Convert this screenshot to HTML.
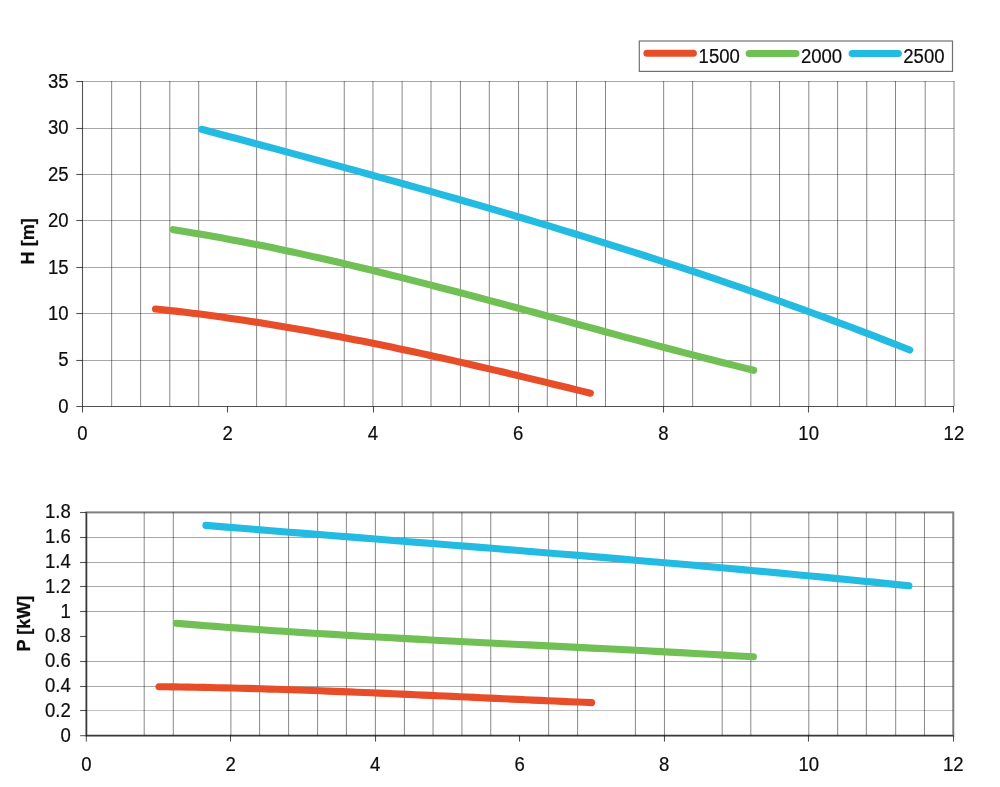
<!DOCTYPE html>
<html><head><meta charset="utf-8"><title>Pump curves</title>
<style>html,body{margin:0;padding:0;background:#fff;}svg{display:block;will-change:transform;}body{font-family:"Liberation Sans",sans-serif;}</style></head>
<body>
<svg width="1000" height="787" viewBox="0 0 1000 787">
<rect width="1000" height="787" fill="#fff"/>
<g fill="none">
<line x1="111.65" y1="81.00" x2="111.65" y2="406.50" stroke="#000" stroke-opacity="0.47" stroke-width="1"/>
<line x1="140.60" y1="81.00" x2="140.60" y2="406.50" stroke="#000" stroke-opacity="0.47" stroke-width="1"/>
<line x1="169.80" y1="81.00" x2="169.80" y2="406.50" stroke="#000" stroke-opacity="0.47" stroke-width="1"/>
<line x1="198.70" y1="81.00" x2="198.70" y2="406.50" stroke="#000" stroke-opacity="0.47" stroke-width="1"/>
<line x1="256.60" y1="81.00" x2="256.60" y2="406.50" stroke="#000" stroke-opacity="0.47" stroke-width="1"/>
<line x1="286.10" y1="81.00" x2="286.10" y2="406.50" stroke="#000" stroke-opacity="0.47" stroke-width="1"/>
<line x1="344.25" y1="81.00" x2="344.25" y2="406.50" stroke="#000" stroke-opacity="0.47" stroke-width="1"/>
<line x1="372.95" y1="81.00" x2="372.95" y2="406.50" stroke="#000" stroke-opacity="0.47" stroke-width="1"/>
<line x1="402.10" y1="81.00" x2="402.10" y2="406.50" stroke="#000" stroke-opacity="0.47" stroke-width="1"/>
<line x1="431.00" y1="81.00" x2="431.00" y2="406.50" stroke="#000" stroke-opacity="0.47" stroke-width="1"/>
<line x1="460.40" y1="81.00" x2="460.40" y2="406.50" stroke="#000" stroke-opacity="0.47" stroke-width="1"/>
<line x1="489.30" y1="81.00" x2="489.30" y2="406.50" stroke="#000" stroke-opacity="0.47" stroke-width="1"/>
<line x1="518.55" y1="81.00" x2="518.55" y2="406.50" stroke="#000" stroke-opacity="0.47" stroke-width="1"/>
<line x1="547.30" y1="81.00" x2="547.30" y2="406.50" stroke="#000" stroke-opacity="0.47" stroke-width="1"/>
<line x1="576.50" y1="81.00" x2="576.50" y2="406.50" stroke="#000" stroke-opacity="0.47" stroke-width="1"/>
<line x1="605.50" y1="81.00" x2="605.50" y2="406.50" stroke="#000" stroke-opacity="0.47" stroke-width="1"/>
<line x1="663.65" y1="81.00" x2="663.65" y2="406.50" stroke="#000" stroke-opacity="0.47" stroke-width="1"/>
<line x1="692.65" y1="81.00" x2="692.65" y2="406.50" stroke="#000" stroke-opacity="0.47" stroke-width="1"/>
<line x1="750.85" y1="81.00" x2="750.85" y2="406.50" stroke="#000" stroke-opacity="0.47" stroke-width="1"/>
<line x1="779.55" y1="81.00" x2="779.55" y2="406.50" stroke="#000" stroke-opacity="0.47" stroke-width="1"/>
<line x1="808.80" y1="81.00" x2="808.80" y2="406.50" stroke="#000" stroke-opacity="0.47" stroke-width="1"/>
<line x1="837.60" y1="81.00" x2="837.60" y2="406.50" stroke="#000" stroke-opacity="0.47" stroke-width="1"/>
<line x1="866.75" y1="81.00" x2="866.75" y2="406.50" stroke="#000" stroke-opacity="0.47" stroke-width="1"/>
<line x1="895.50" y1="81.00" x2="895.50" y2="406.50" stroke="#000" stroke-opacity="0.47" stroke-width="1"/>
<line x1="925.20" y1="81.00" x2="925.20" y2="406.50" stroke="#000" stroke-opacity="0.47" stroke-width="1"/>
<line x1="954.00" y1="81.00" x2="954.00" y2="406.50" stroke="#000" stroke-opacity="0.47" stroke-width="1"/>
<line x1="82.50" y1="81.50" x2="954.00" y2="81.50" stroke="#000" stroke-opacity="0.34" stroke-width="1"/>
<line x1="82.50" y1="128.50" x2="954.00" y2="128.50" stroke="#000" stroke-opacity="0.34" stroke-width="1"/>
<line x1="82.50" y1="174.50" x2="954.00" y2="174.50" stroke="#000" stroke-opacity="0.34" stroke-width="1"/>
<line x1="82.50" y1="220.50" x2="954.00" y2="220.50" stroke="#000" stroke-opacity="0.34" stroke-width="1"/>
<line x1="82.50" y1="267.50" x2="954.00" y2="267.50" stroke="#000" stroke-opacity="0.34" stroke-width="1"/>
<line x1="82.50" y1="313.50" x2="954.00" y2="313.50" stroke="#000" stroke-opacity="0.34" stroke-width="1"/>
<line x1="82.50" y1="360.50" x2="954.00" y2="360.50" stroke="#000" stroke-opacity="0.34" stroke-width="1"/>
<line x1="82.50" y1="81.00" x2="82.50" y2="412.50" stroke="#000" stroke-opacity="0.68" stroke-width="1.1"/>
<line x1="76.30" y1="406.50" x2="954.00" y2="406.50" stroke="#000" stroke-opacity="0.68" stroke-width="1.1"/>
<line x1="76.30" y1="81.50" x2="82.50" y2="81.50" stroke="#000" stroke-opacity="0.68" stroke-width="1.1"/>
<line x1="76.30" y1="128.50" x2="82.50" y2="128.50" stroke="#000" stroke-opacity="0.68" stroke-width="1.1"/>
<line x1="76.30" y1="174.50" x2="82.50" y2="174.50" stroke="#000" stroke-opacity="0.68" stroke-width="1.1"/>
<line x1="76.30" y1="220.50" x2="82.50" y2="220.50" stroke="#000" stroke-opacity="0.68" stroke-width="1.1"/>
<line x1="76.30" y1="267.50" x2="82.50" y2="267.50" stroke="#000" stroke-opacity="0.68" stroke-width="1.1"/>
<line x1="76.30" y1="313.50" x2="82.50" y2="313.50" stroke="#000" stroke-opacity="0.68" stroke-width="1.1"/>
<line x1="76.30" y1="360.50" x2="82.50" y2="360.50" stroke="#000" stroke-opacity="0.68" stroke-width="1.1"/>
<line x1="227.50" y1="406.50" x2="227.50" y2="412.50" stroke="#000" stroke-opacity="0.68" stroke-width="1.1"/>
<line x1="373.50" y1="406.50" x2="373.50" y2="412.50" stroke="#000" stroke-opacity="0.68" stroke-width="1.1"/>
<line x1="518.50" y1="406.50" x2="518.50" y2="412.50" stroke="#000" stroke-opacity="0.68" stroke-width="1.1"/>
<line x1="663.50" y1="406.50" x2="663.50" y2="412.50" stroke="#000" stroke-opacity="0.68" stroke-width="1.1"/>
<line x1="808.50" y1="406.50" x2="808.50" y2="412.50" stroke="#000" stroke-opacity="0.68" stroke-width="1.1"/>
<line x1="953.50" y1="406.50" x2="953.50" y2="412.50" stroke="#000" stroke-opacity="0.68" stroke-width="1.1"/>
</g>
<g fill="none">
<line x1="144.20" y1="512.40" x2="144.20" y2="735.60" stroke="#000" stroke-opacity="0.47" stroke-width="1"/>
<line x1="173.30" y1="512.40" x2="173.30" y2="735.60" stroke="#000" stroke-opacity="0.47" stroke-width="1"/>
<line x1="230.90" y1="512.40" x2="230.90" y2="735.60" stroke="#000" stroke-opacity="0.47" stroke-width="1"/>
<line x1="259.60" y1="512.40" x2="259.60" y2="735.60" stroke="#000" stroke-opacity="0.47" stroke-width="1"/>
<line x1="288.60" y1="512.40" x2="288.60" y2="735.60" stroke="#000" stroke-opacity="0.47" stroke-width="1"/>
<line x1="317.60" y1="512.40" x2="317.60" y2="735.60" stroke="#000" stroke-opacity="0.47" stroke-width="1"/>
<line x1="346.40" y1="512.40" x2="346.40" y2="735.60" stroke="#000" stroke-opacity="0.47" stroke-width="1"/>
<line x1="375.40" y1="512.40" x2="375.40" y2="735.60" stroke="#000" stroke-opacity="0.47" stroke-width="1"/>
<line x1="404.40" y1="512.40" x2="404.40" y2="735.60" stroke="#000" stroke-opacity="0.47" stroke-width="1"/>
<line x1="433.05" y1="512.40" x2="433.05" y2="735.60" stroke="#000" stroke-opacity="0.47" stroke-width="1"/>
<line x1="461.95" y1="512.40" x2="461.95" y2="735.60" stroke="#000" stroke-opacity="0.47" stroke-width="1"/>
<line x1="490.75" y1="512.40" x2="490.75" y2="735.60" stroke="#000" stroke-opacity="0.47" stroke-width="1"/>
<line x1="548.65" y1="512.40" x2="548.65" y2="735.60" stroke="#000" stroke-opacity="0.47" stroke-width="1"/>
<line x1="577.60" y1="512.40" x2="577.60" y2="735.60" stroke="#000" stroke-opacity="0.47" stroke-width="1"/>
<line x1="635.40" y1="512.40" x2="635.40" y2="735.60" stroke="#000" stroke-opacity="0.47" stroke-width="1"/>
<line x1="664.45" y1="512.40" x2="664.45" y2="735.60" stroke="#000" stroke-opacity="0.47" stroke-width="1"/>
<line x1="722.20" y1="512.40" x2="722.20" y2="735.60" stroke="#000" stroke-opacity="0.47" stroke-width="1"/>
<line x1="750.80" y1="512.40" x2="750.80" y2="735.60" stroke="#000" stroke-opacity="0.47" stroke-width="1"/>
<line x1="808.80" y1="512.40" x2="808.80" y2="735.60" stroke="#000" stroke-opacity="0.47" stroke-width="1"/>
<line x1="837.65" y1="512.40" x2="837.65" y2="735.60" stroke="#000" stroke-opacity="0.47" stroke-width="1"/>
<line x1="866.35" y1="512.40" x2="866.35" y2="735.60" stroke="#000" stroke-opacity="0.47" stroke-width="1"/>
<line x1="895.70" y1="512.40" x2="895.70" y2="735.60" stroke="#000" stroke-opacity="0.47" stroke-width="1"/>
<line x1="924.45" y1="512.40" x2="924.45" y2="735.60" stroke="#000" stroke-opacity="0.47" stroke-width="1"/>
<line x1="86.39" y1="537.50" x2="953.28" y2="537.50" stroke="#000" stroke-opacity="0.34" stroke-width="1"/>
<line x1="86.39" y1="562.50" x2="953.28" y2="562.50" stroke="#000" stroke-opacity="0.34" stroke-width="1"/>
<line x1="86.39" y1="586.50" x2="953.28" y2="586.50" stroke="#000" stroke-opacity="0.34" stroke-width="1"/>
<line x1="86.39" y1="611.50" x2="953.28" y2="611.50" stroke="#000" stroke-opacity="0.34" stroke-width="1"/>
<line x1="86.39" y1="661.50" x2="953.28" y2="661.50" stroke="#000" stroke-opacity="0.34" stroke-width="1"/>
<line x1="86.39" y1="686.50" x2="953.28" y2="686.50" stroke="#000" stroke-opacity="0.34" stroke-width="1"/>
<line x1="86.39" y1="710.50" x2="953.28" y2="710.50" stroke="#000" stroke-opacity="0.24" stroke-width="1"/>
<rect x="86.39" y="512.40" width="866.89" height="223.20" stroke="#000" stroke-opacity="0.50" stroke-width="2"/>
<line x1="86.39" y1="512.40" x2="86.39" y2="741.60" stroke="#000" stroke-opacity="0.55" stroke-width="1.3"/>
<line x1="80.09" y1="735.60" x2="953.28" y2="735.60" stroke="#000" stroke-opacity="0.55" stroke-width="1.3"/>
<line x1="80.09" y1="512.50" x2="86.39" y2="512.50" stroke="#000" stroke-opacity="0.68" stroke-width="1.1"/>
<line x1="80.09" y1="537.50" x2="86.39" y2="537.50" stroke="#000" stroke-opacity="0.68" stroke-width="1.1"/>
<line x1="80.09" y1="562.50" x2="86.39" y2="562.50" stroke="#000" stroke-opacity="0.68" stroke-width="1.1"/>
<line x1="80.09" y1="586.50" x2="86.39" y2="586.50" stroke="#000" stroke-opacity="0.68" stroke-width="1.1"/>
<line x1="80.09" y1="611.50" x2="86.39" y2="611.50" stroke="#000" stroke-opacity="0.68" stroke-width="1.1"/>
<line x1="80.09" y1="636.50" x2="86.39" y2="636.50" stroke="#000" stroke-opacity="0.68" stroke-width="1.1"/>
<line x1="80.09" y1="661.50" x2="86.39" y2="661.50" stroke="#000" stroke-opacity="0.68" stroke-width="1.1"/>
<line x1="80.09" y1="686.50" x2="86.39" y2="686.50" stroke="#000" stroke-opacity="0.68" stroke-width="1.1"/>
<line x1="80.09" y1="710.50" x2="86.39" y2="710.50" stroke="#000" stroke-opacity="0.68" stroke-width="1.1"/>
<line x1="230.50" y1="735.60" x2="230.50" y2="741.60" stroke="#000" stroke-opacity="0.68" stroke-width="1.1"/>
<line x1="375.50" y1="735.60" x2="375.50" y2="741.60" stroke="#000" stroke-opacity="0.68" stroke-width="1.1"/>
<line x1="519.50" y1="735.60" x2="519.50" y2="741.60" stroke="#000" stroke-opacity="0.68" stroke-width="1.1"/>
<line x1="664.50" y1="735.60" x2="664.50" y2="741.60" stroke="#000" stroke-opacity="0.68" stroke-width="1.1"/>
<line x1="808.50" y1="735.60" x2="808.50" y2="741.60" stroke="#000" stroke-opacity="0.68" stroke-width="1.1"/>
<line x1="953.50" y1="735.60" x2="953.50" y2="741.60" stroke="#000" stroke-opacity="0.68" stroke-width="1.1"/>
</g>
<g fill="none" stroke-width="7.1" stroke-linecap="round" stroke-linejoin="round">
<polyline stroke="#E84D2A" points="155.5,309.0 162.9,309.8 170.2,310.6 177.6,311.4 185.0,312.3 192.4,313.2 199.7,314.1 207.1,315.1 214.5,316.1 221.8,317.1 229.2,318.2 236.6,319.2 244.0,320.3 251.3,321.4 258.7,322.6 266.1,323.8 273.4,325.0 280.8,326.2 288.2,327.4 295.6,328.7 302.9,330.0 310.3,331.3 317.7,332.7 325.0,334.0 332.4,335.4 339.8,336.8 347.2,338.2 354.5,339.7 361.9,341.1 369.3,342.6 376.6,344.1 384.0,345.6 391.4,347.1 398.7,348.7 406.1,350.3 413.5,351.8 420.9,353.4 428.2,355.0 435.6,356.7 443.0,358.3 450.3,359.9 457.7,361.6 465.1,363.3 472.5,365.0 479.8,366.7 487.2,368.4 494.6,370.1 501.9,371.8 509.3,373.6 516.7,375.3 524.1,377.1 531.4,378.9 538.8,380.6 546.2,382.4 553.5,384.2 560.9,386.0 568.3,387.8 575.7,389.6 583.0,391.4 590.4,393.2"/>
<polyline stroke="#70C055" points="173.3,229.7 183.1,231.3 193.0,232.9 202.8,234.6 212.6,236.3 222.5,238.0 232.3,239.9 242.2,241.7 252.0,243.7 261.8,245.6 271.7,247.6 281.5,249.7 291.3,251.8 301.2,253.9 311.0,256.1 320.9,258.3 330.7,260.5 340.5,262.8 350.4,265.1 360.2,267.5 370.0,269.8 379.9,272.2 389.7,274.7 399.6,277.1 409.4,279.6 419.2,282.1 429.1,284.6 438.9,287.2 448.7,289.7 458.6,292.3 468.4,294.9 478.3,297.5 488.1,300.1 497.9,302.7 507.8,305.4 517.6,308.0 527.4,310.7 537.3,313.3 547.1,316.0 557.0,318.7 566.8,321.3 576.6,324.0 586.5,326.7 596.3,329.3 606.1,332.0 616.0,334.6 625.8,337.3 635.7,339.9 645.5,342.5 655.3,345.1 665.2,347.7 675.0,350.3 684.8,352.9 694.7,355.4 704.5,358.0 714.4,360.5 724.2,363.0 734.0,365.4 743.9,367.9 753.7,370.3"/>
<polyline stroke="#24BBE2" points="201.6,129.3 213.6,132.5 225.6,135.7 237.6,138.8 249.6,142.0 261.6,145.2 273.6,148.4 285.6,151.7 297.6,154.9 309.6,158.1 321.6,161.4 333.6,164.6 345.6,167.9 357.6,171.2 369.6,174.5 381.7,177.8 393.7,181.1 405.7,184.5 417.7,187.8 429.7,191.2 441.7,194.6 453.7,198.0 465.7,201.5 477.7,204.9 489.7,208.4 501.7,211.9 513.7,215.5 525.7,219.0 537.7,222.6 549.7,226.2 561.7,229.8 573.7,233.5 585.7,237.1 597.7,240.9 609.7,244.6 621.7,248.4 633.7,252.2 645.7,256.0 657.7,259.9 669.7,263.8 681.7,267.7 693.7,271.7 705.7,275.7 717.7,279.7 729.7,283.8 741.8,287.9 753.8,292.1 765.8,296.3 777.8,300.5 789.8,304.8 801.8,309.1 813.8,313.5 825.8,317.9 837.8,322.3 849.8,326.8 861.8,331.4 873.8,335.9 885.8,340.6 897.8,345.3 909.8,350.0"/>
<polyline stroke="#E84D2A" points="159.0,686.7 166.3,686.8 173.7,686.9 181.0,687.0 188.3,687.1 195.7,687.2 203.0,687.4 210.3,687.5 217.7,687.7 225.0,687.9 232.3,688.0 239.7,688.2 247.0,688.4 254.3,688.6 261.7,688.8 269.0,689.1 276.3,689.3 283.6,689.5 291.0,689.8 298.3,690.0 305.6,690.3 313.0,690.5 320.3,690.8 327.6,691.1 335.0,691.4 342.3,691.6 349.6,691.9 357.0,692.2 364.3,692.5 371.6,692.8 379.0,693.1 386.3,693.4 393.6,693.8 401.0,694.1 408.3,694.4 415.6,694.7 423.0,695.1 430.3,695.4 437.6,695.7 445.0,696.0 452.3,696.4 459.6,696.7 467.0,697.0 474.3,697.4 481.6,697.7 488.9,698.1 496.3,698.4 503.6,698.7 510.9,699.1 518.3,699.4 525.6,699.7 532.9,700.1 540.3,700.4 547.6,700.7 554.9,701.0 562.3,701.4 569.6,701.7 576.9,702.0 584.3,702.3 591.6,702.6"/>
<polyline stroke="#70C055" points="176.3,623.3 186.1,624.1 195.9,624.9 205.6,625.7 215.4,626.4 225.2,627.2 235.0,627.9 244.8,628.6 254.6,629.3 264.3,630.0 274.1,630.7 283.9,631.3 293.7,632.0 303.5,632.6 313.2,633.2 323.0,633.8 332.8,634.4 342.6,635.0 352.4,635.6 362.1,636.2 371.9,636.7 381.7,637.3 391.5,637.8 401.3,638.4 411.1,638.9 420.8,639.4 430.6,640.0 440.4,640.5 450.2,641.0 460.0,641.5 469.7,642.0 479.5,642.5 489.3,643.0 499.1,643.5 508.9,644.0 518.6,644.5 528.4,644.9 538.2,645.4 548.0,645.9 557.8,646.4 567.6,646.9 577.3,647.4 587.1,647.9 596.9,648.4 606.7,648.8 616.5,649.3 626.2,649.8 636.0,650.3 645.8,650.8 655.6,651.4 665.4,651.9 675.1,652.4 684.9,652.9 694.7,653.5 704.5,654.0 714.3,654.5 724.1,655.1 733.8,655.7 743.6,656.2 753.4,656.8"/>
<polyline stroke="#24BBE2" points="205.9,525.4 217.8,526.4 229.7,527.4 241.6,528.3 253.6,529.3 265.5,530.3 277.4,531.2 289.3,532.2 301.2,533.1 313.1,534.1 325.1,535.0 337.0,536.0 348.9,536.9 360.8,537.9 372.7,538.8 384.6,539.8 396.5,540.7 408.5,541.7 420.4,542.6 432.3,543.5 444.2,544.5 456.1,545.5 468.0,546.4 480.0,547.4 491.9,548.3 503.8,549.3 515.7,550.3 527.6,551.2 539.5,552.2 551.4,553.2 563.4,554.2 575.3,555.1 587.2,556.1 599.1,557.1 611.0,558.1 622.9,559.1 634.8,560.2 646.8,561.2 658.7,562.2 670.6,563.2 682.5,564.3 694.4,565.3 706.3,566.4 718.3,567.5 730.2,568.5 742.1,569.6 754.0,570.7 765.9,571.8 777.8,572.9 789.7,574.0 801.7,575.2 813.6,576.3 825.5,577.4 837.4,578.6 849.3,579.8 861.2,581.0 873.2,582.1 885.1,583.4 897.0,584.6 908.9,585.8"/>
</g>
<rect x="639.3" y="41.0" width="313.2" height="30.4" fill="#fff" stroke="#000" stroke-opacity="0.56" stroke-width="1.2"/>
<g fill="none" stroke-width="7" stroke-linecap="round">
<line x1="646.9" y1="53.3" x2="693.4" y2="53.3" stroke="#E84D2A"/>
<line x1="749.1" y1="53.4" x2="796.0" y2="53.4" stroke="#70C055"/>
<line x1="852.1" y1="53.4" x2="898.4" y2="53.4" stroke="#24BBE2"/>
</g>
<g font-family="'Liberation Sans', sans-serif" font-size="18.55" fill="#0d0d0d" stroke="#0d0d0d" stroke-width="0.2">
<text transform="translate(698.60,63.00) scale(1,1.05)" text-anchor="start">1500</text>
<text transform="translate(800.95,63.00) scale(1,1.05)" text-anchor="start">2000</text>
<text transform="translate(903.30,63.00) scale(1,1.05)" text-anchor="start">2500</text>
<text transform="translate(68.60,88.10) scale(1,1.05)" text-anchor="end">35</text>
<text transform="translate(68.60,134.49) scale(1,1.05)" text-anchor="end">30</text>
<text transform="translate(68.60,180.87) scale(1,1.05)" text-anchor="end">25</text>
<text transform="translate(68.60,227.26) scale(1,1.05)" text-anchor="end">20</text>
<text transform="translate(68.60,273.64) scale(1,1.05)" text-anchor="end">15</text>
<text transform="translate(68.60,320.03) scale(1,1.05)" text-anchor="end">10</text>
<text transform="translate(68.60,366.41) scale(1,1.05)" text-anchor="end">5</text>
<text transform="translate(68.60,412.80) scale(1,1.05)" text-anchor="end">0</text>
<text transform="translate(82.50,439.90) scale(1,1.05)" text-anchor="middle">0</text>
<text transform="translate(227.73,439.90) scale(1,1.05)" text-anchor="middle">2</text>
<text transform="translate(372.96,439.90) scale(1,1.05)" text-anchor="middle">4</text>
<text transform="translate(518.20,439.90) scale(1,1.05)" text-anchor="middle">6</text>
<text transform="translate(663.43,439.90) scale(1,1.05)" text-anchor="middle">8</text>
<text transform="translate(808.66,439.90) scale(1,1.05)" text-anchor="middle">10</text>
<text transform="translate(953.90,439.90) scale(1,1.05)" text-anchor="middle">12</text>
<text transform="translate(70.80,518.40) scale(1,1.05)" text-anchor="end">1.8</text>
<text transform="translate(70.80,543.20) scale(1,1.05)" text-anchor="end">1.6</text>
<text transform="translate(70.80,568.00) scale(1,1.05)" text-anchor="end">1.4</text>
<text transform="translate(70.80,592.80) scale(1,1.05)" text-anchor="end">1.2</text>
<text transform="translate(70.80,617.60) scale(1,1.05)" text-anchor="end">1</text>
<text transform="translate(70.80,642.40) scale(1,1.05)" text-anchor="end">0.8</text>
<text transform="translate(70.80,667.20) scale(1,1.05)" text-anchor="end">0.6</text>
<text transform="translate(70.80,692.00) scale(1,1.05)" text-anchor="end">0.4</text>
<text transform="translate(70.80,716.80) scale(1,1.05)" text-anchor="end">0.2</text>
<text transform="translate(70.80,741.60) scale(1,1.05)" text-anchor="end">0</text>
<text transform="translate(86.29,771.30) scale(1,1.05)" text-anchor="middle">0</text>
<text transform="translate(230.77,771.30) scale(1,1.05)" text-anchor="middle">2</text>
<text transform="translate(375.26,771.30) scale(1,1.05)" text-anchor="middle">4</text>
<text transform="translate(519.74,771.30) scale(1,1.05)" text-anchor="middle">6</text>
<text transform="translate(664.22,771.30) scale(1,1.05)" text-anchor="middle">8</text>
<text transform="translate(808.70,771.30) scale(1,1.05)" text-anchor="middle">10</text>
<text transform="translate(953.18,771.30) scale(1,1.05)" text-anchor="middle">12</text>
</g>
<g font-family="'Liberation Sans', sans-serif" font-size="18.1" font-weight="bold" fill="#0d0d0d" stroke="#0d0d0d" stroke-width="0.25">
<text transform="translate(34.3,241.3) rotate(-90)" text-anchor="middle">H [m]</text>
<text transform="translate(30.3,623.6) rotate(-90)" text-anchor="middle">P [kW]</text>
</g>
</svg>
</body></html>
